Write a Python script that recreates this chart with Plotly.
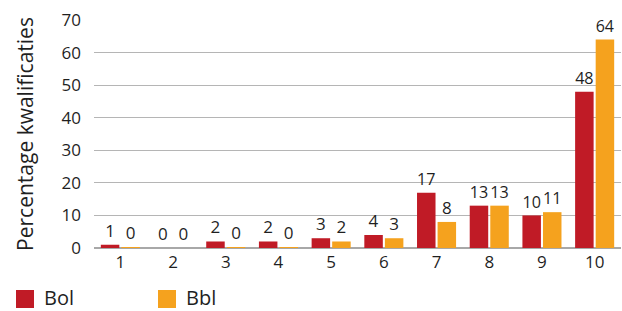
import plotly.graph_objects as go

categories = ["1", "2", "3", "4", "5", "6", "7", "8", "9", "10"]
bol_values = [1, 0, 2, 2, 3, 4, 17, 13, 10, 48]
bbl_values = [0.2, 0, 0.2, 0.2, 2, 3, 8, 13, 11, 64]
series_names = ["Bol", "Bbl"]
series_colors = ["#C01B26", "#F5A21E"]
y_ticks = [0, 10, 20, 30, 40, 50, 60, 70]

FONT = "Open Sans"
TEXT = "#1f1f1f"

W, H = 622, 311
ML, MR, MT, MB = 94, 1, 20, 63
PW, PH = W - ML - MR, H - MT - MB

fig = go.Figure()
for name, vals, color in zip(series_names, [bol_values, bbl_values], series_colors):
    fig.add_trace(go.Bar(
        x=categories, y=vals, name=name, marker=dict(color=color, line=dict(width=0)),
        texttemplate="%{y:.0f}", textposition="outside", cliponaxis=False,
        textfont=dict(family=FONT, size=17, color=TEXT), showlegend=False,
    ))

# manual legend (swatch + label) placed below the plot area
def px_x(px):
    return (px - ML) / PW

def px_y(py):
    return (H - MB - py) / PH

legend_x = [16, 158]
for name, color, lx in zip(series_names, series_colors, legend_x):
    fig.add_shape(type="rect", xref="paper", yref="paper",
                  x0=px_x(lx), x1=px_x(lx + 18), y0=px_y(308), y1=px_y(290),
                  fillcolor=color, line=dict(width=0))
    fig.add_annotation(xref="paper", yref="paper", x=px_x(lx + 27), y=px_y(297),
                       xanchor="left", yanchor="middle", text=name, showarrow=False,
                       borderpad=0,
                       font=dict(family=FONT, size=20, color=TEXT))

fig.update_layout(
    width=W, height=H,
    margin=dict(l=ML, r=MR, t=MT, b=MB, autoexpand=False),
    paper_bgcolor="white", plot_bgcolor="white",
    barmode="group", bargap=0.22, bargroupgap=0.1,
    font=dict(family=FONT, size=17, color=TEXT),
    showlegend=False,
)
fig.update_xaxes(type="category", showgrid=False, showline=False, ticks="", automargin=False,
                 tickfont=dict(family=FONT, size=17, color=TEXT), ticklabelstandoff=2)
fig.update_yaxes(range=[0, 70], tickvals=y_ticks, showgrid=True, gridcolor="#b5b5b5",
                 gridwidth=1, zeroline=True, zerolinecolor="#a8a8a8", zerolinewidth=2,
                 showline=False, ticks="", ticklabelstandoff=12, automargin=False,
                 tickfont=dict(family=FONT, size=17, color=TEXT),
                 title=dict(text="Percentage kwalificaties", standoff=22,
                            font=dict(family=FONT, size=21, color=TEXT)))

fig.write_html("out.html", config={"displayModeBar": False},
               post_script="document.body.style.margin='0';document.body.style.overflow='hidden';")
